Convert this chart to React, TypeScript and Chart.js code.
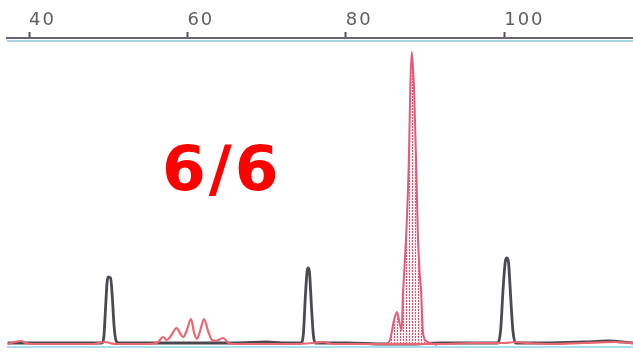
import React, { useEffect, useRef } from "react";
import { Chart, registerables } from "chart.js";

Chart.register(...registerables);

// Fragment size axis (bp) tick labels
const tickValues = [40, 60, 80, 100];
const sizeMin = 37.22;
const sizeMax = 116.26;

// Black (size standard) trace
const blackSizes = [37.3, 40, 45, 49.2, 49.45, 49.65, 49.85, 50.0, 50.3, 50.5, 50.75, 51.0, 51.3, 55, 60, 66, 70, 72, 74.35, 74.65, 74.9, 75.12, 75.27, 75.42, 75.65, 75.9, 76.15, 80, 85, 88, 92, 97, 99.2, 99.55, 99.85, 100.15, 100.35, 100.55, 100.8, 101.1, 101.45, 105, 110, 113, 116.3];
const blackHeights = [2, 2, 2, 2, 8, 35, 62, 68, 67, 50, 18, 4, 2, 2, 2, 2, 3, 2, 2, 12, 50, 74, 77, 72, 40, 10, 2, 2, 1, 1, 2, 2, 2, 15, 55, 84, 87, 82, 50, 14, 2, 2, 3, 4, 2];

// Red sample trace (outside main peak)
const redSizes = [37.3, 38.2, 39.0, 39.6, 40.5, 42, 45, 48, 49.6, 50.2, 51, 53, 55, 56.3, 56.9, 57.4, 57.9, 58.65, 59.05, 59.45, 59.9, 60.45, 60.85, 61.2, 61.6, 62.1, 62.6, 63.1, 63.6, 64.5, 65.2, 66, 70, 73, 76, 77, 78.5, 81, 84, 92, 96, 100, 101.5, 103, 106, 110, 114, 116.3];
const redHeights = [1, 3, 4, 2, 1, 1, 1, 1, 3, 2, 1, 1, 1, 3, 8, 5, 9, 17, 12, 8, 14, 26, 12, 6, 14, 26, 14, 5, 4, 7, 2, 1, 1, 1, 2, 3, 1, 1, 1, 1, 2, 2, 3, 2, 1, 2, 3, 2];

// Red main peak (filled)
const redMainSizes = [84.95, 85.58, 86.09, 86.46, 86.84, 87.06, 87.2, 87.42, 87.65, 87.95, 88.15, 88.32, 88.5, 88.65, 88.88, 89.08, 89.3, 89.5, 89.75, 90.13, 90.63, 91.52];
const redMainHeights = [0, 5, 25, 33, 20, 15, 48, 80, 115, 182, 260, 293, 275, 248, 182, 115, 75, 55, 12, 4, 2, 0];

const callText = "6/6";

function toPoints(xs: number[], ys: number[]) {
  return xs.map((x, i) => ({ x, y: ys[i] }));
}

function makeDotPattern(): CanvasPattern | string {
  const c = document.createElement("canvas");
  c.width = 3;
  c.height = 3;
  const g = c.getContext("2d");
  if (!g) return "rgba(235,110,130,0.4)";
  g.fillStyle = "rgba(255,240,242,1)";
  g.fillRect(0, 0, 3, 3);
  g.fillStyle = "rgba(228,80,108,1)";
  g.fillRect(1, 0, 1, 2);
  const p = g.createPattern(c, "repeat");
  return p || "rgba(235,110,130,0.4)";
}

const decorPlugin = {
  id: "decor",
  beforeDraw(chart: any) {
    const ctx = chart.ctx;
    ctx.letterSpacing = "2px";
  },
  beforeDatasetsDraw(chart: any) {
    const ctx = chart.ctx;
    ctx.letterSpacing = "0px";
    const { left, right, top } = chart.chartArea;
    const y0 = chart.scales.y.getPixelForValue(0);
    ctx.save();
    // second (light blue) axis line
    ctx.strokeStyle = "#a9d6e2";
    ctx.lineWidth = 2;
    ctx.beginPath();
    ctx.moveTo(left, top + 3);
    ctx.lineTo(right, top + 3);
    ctx.stroke();
    // baseline line
    ctx.strokeStyle = "#8fd3ea";
    ctx.lineWidth = 1.5;
    ctx.beginPath();
    ctx.moveTo(left, y0 + 2);
    ctx.lineTo(right, y0 + 2);
    ctx.stroke();
    ctx.restore();
  },
  afterDraw(chart: any) {
    const ctx = chart.ctx;
    ctx.save();
    ctx.letterSpacing = "3px";
    ctx.fillStyle = "#ff0000";
    ctx.font = "bold 63px 'DejaVu Sans'";
    ctx.textAlign = "left";
    ctx.textBaseline = "alphabetic";
    ctx.fillText(callText, 162, 190);
    ctx.restore();
  },
};

export default function App() {
  const ref = useRef<HTMLCanvasElement>(null);

  useEffect(() => {
    if (!ref.current) return;
    const pattern = makeDotPattern();
    const chart = new Chart(ref.current, {
      type: "line",
      data: {
        datasets: [
          {
            label: "red",
            data: toPoints(redSizes, redHeights),
            borderColor: "#ea6672",
            borderWidth: 2.2,
            pointRadius: 0,
            fill: false,
            cubicInterpolationMode: "monotone",
          },
          {
            label: "redMain",
            data: toPoints(redMainSizes, redMainHeights),
            borderColor: "#e55a78",
            backgroundColor: pattern as any,
            borderWidth: 2,
            pointRadius: 0,
            fill: "origin",
            cubicInterpolationMode: "monotone",
          },
          {
            label: "black",
            data: toPoints(blackSizes, blackHeights),
            borderColor: "#4b4a52",
            borderWidth: 2.8,
            pointRadius: 0,
            fill: false,
            cubicInterpolationMode: "monotone",
          },
        ],
      },
      options: {
        animation: false,
        responsive: false,
        maintainAspectRatio: false,
        layout: { padding: { left: 7, right: 0, top: 0, bottom: 0 } },
        plugins: { legend: { display: false }, tooltip: { enabled: false } },
        scales: {
          x: {
            type: "linear",
            position: "top",
            min: sizeMin,
            max: sizeMax,
            afterBuildTicks(scale: any) {
              scale.ticks = tickValues.map((v) => ({ value: v }));
            },
            afterFit(scale: any) {
              scale.height = 38;
            },
            grid: {
              drawOnChartArea: false,
              drawTicks: true,
              tickLength: 6,
              tickWidth: 2,
              tickColor: "#55525a",
            },
            border: { display: true, color: "#6b6275", width: 2 },
            ticks: {
              align: "start",
              padding: 1,
              maxRotation: 0,
              autoSkip: false,
              color: "#606060",
              font: { family: "'DejaVu Sans'", size: 18 },
            },
          },
          y: {
            display: false,
            min: -11,
            max: 307,
          },
        },
      },
      plugins: [decorPlugin],
    });
    return () => chart.destroy();
  }, []);

  return (
    <div style={{ position: "absolute", left: 0, top: 0, width: 633, height: 356, background: "#fff" }}>
      <canvas ref={ref} width={633} height={356} style={{ width: 633, height: 356, display: "block" }} />
    </div>
  );
}
